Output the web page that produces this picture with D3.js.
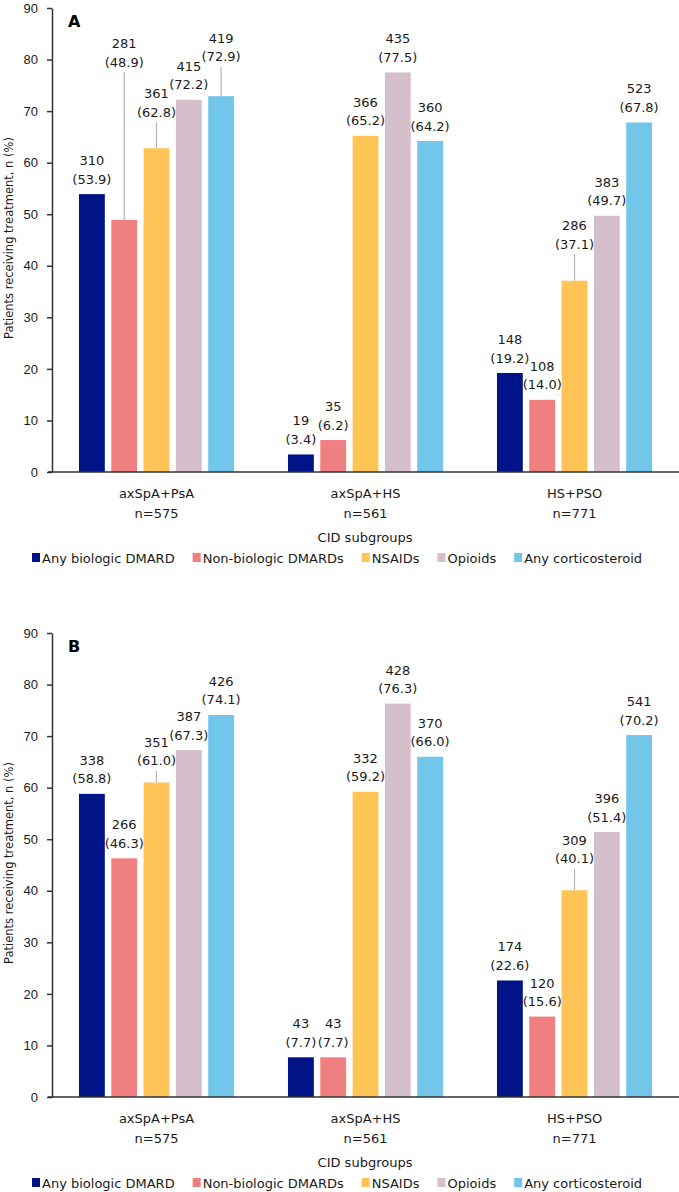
<!DOCTYPE html>
<html lang="en">
<head>
    <meta charset="UTF-8">
    <title>CID subgroups treatment</title>
    <script src="https://d3js.org/d3.v7.min.js"></script>
    <style>
        body {
            margin: 0;
            padding: 0;
            background-color: #fff;
        }

        svg {
            display: block;
            font-family: 'DejaVu Sans', Verdana, sans-serif;
        }

        .tick text, .lbl, .cat, .legend text, .xtitle {
            font-size: 13px;
            fill: #1a1a1a;
        }

        .ytitle {
            font-size: 11.5px;
            fill: #1a1a1a;
        }

        .panel-letter {
            font-size: 16px;
            font-weight: bold;
            fill: #000;
        }
    </style>
</head>
<body>
    <svg id="chart" width="679" height="1192"></svg>

    <script>
        // Categories and series
        const categories = ["axSpA+PsA", "axSpA+HS", "HS+PSO"];
        const groupN = [575, 561, 771];
        const series = ["Any biologic DMARD", "Non-biologic DMARDs", "NSAIDs", "Opioids", "Any corticosteroid"];
        const colors = ["#001387", "#f08080", "#ffc455", "#d4bfcb", "#72c6e9"];
        const yTicks = [0, 10, 20, 30, 40, 50, 60, 70, 80, 90];

        // Panel A: n and %
        const countsA = [[310, 281, 361, 415, 419], [19, 35, 366, 435, 360], [148, 108, 286, 383, 523]];
        const pctA = [[53.9, 48.9, 62.8, 72.2, 72.9], [3.4, 6.2, 65.2, 77.5, 64.2], [19.2, 14.0, 37.1, 49.7, 67.8]];
        // where a label was lifted above its bar (value-axis units), null = right on top
        const calloutA = [[null, 79.5, 69.8, null, 80.5], [null, null, null, null, null], [null, null, 44.2, null, null]];

        // Panel B: n and %
        const countsB = [[338, 266, 351, 387, 426], [43, 43, 332, 428, 370], [174, 120, 309, 396, 541]];
        const pctB = [[58.8, 46.3, 61.0, 67.3, 74.1], [7.7, 7.7, 59.2, 76.3, 66.0], [22.6, 15.6, 40.1, 51.4, 70.2]];
        const calloutB = [[null, null, 65.2, null, null], [null, null, null, null, null], [null, null, 46.2, null, null]];

        const svg = d3.select("#chart");
        const panelHeight = 625;
        const plotLeft = 52, plotRight = 679, plotTop = 8, plotBottom = 472;

        const yScale = d3.scaleLinear().domain([0, 90]).range([plotBottom, plotTop]);
        const x0 = d3.scaleBand().domain(categories).range([plotLeft, plotRight]).padding(0);
        const x1 = d3.scaleBand().domain(series).range([0, x0.bandwidth()])
            .paddingInner(0.2).paddingOuter(0.835);
        const color = d3.scaleOrdinal().domain(series).range(colors);

        function drawPanel(offsetY, letter, counts, pcts, callouts) {
            const g = svg.append("g").attr("transform", `translate(0,${offsetY})`);

            // y axis
            const yAxis = g.append("g")
                .attr("transform", `translate(${plotLeft},0)`)
                .call(d3.axisLeft(yScale).tickValues(yTicks).tickSize(5).tickSizeOuter(0).tickPadding(9));
            yAxis.select(".domain").attr("stroke", "#333").attr("stroke-width", 1.5);
            yAxis.selectAll(".tick line").attr("stroke", "#333").attr("stroke-width", 1.5);
            yAxis.selectAll(".tick text").attr("font-family", null).attr("font-size", null);

            g.append("text")
                .attr("class", "ytitle")
                .attr("transform", `translate(13,238) rotate(-90)`)
                .attr("text-anchor", "middle")
                .text("Patients receiving treatment, n (%)");

            g.append("text")
                .attr("class", "panel-letter")
                .attr("x", 68)
                .attr("y", 27)
                .text(letter);

            // bars
            const groups = g.selectAll(".grp")
                .data(categories)
                .join("g")
                .attr("class", "grp")
                .attr("transform", d => `translate(${x0(d)},0)`);

            groups.each(function (cat, ci) {
                const grp = d3.select(this);
                const rows = series.map((s, si) => ({
                    s, n: counts[ci][si], p: pcts[ci][si], at: callouts[ci][si]
                }));

                grp.selectAll("rect")
                    .data(rows)
                    .join("rect")
                    .attr("x", d => x1(d.s))
                    .attr("y", d => yScale(d.p))
                    .attr("width", x1.bandwidth())
                    .attr("height", d => yScale(0) - yScale(d.p))
                    .attr("fill", d => color(d.s));

                // leader lines for lifted labels
                grp.selectAll("line.lead")
                    .data(rows.filter(d => d.at !== null))
                    .join("line")
                    .attr("class", "lead")
                    .attr("x1", d => x1(d.s) + x1.bandwidth() / 2)
                    .attr("x2", d => x1(d.s) + x1.bandwidth() / 2)
                    .attr("y1", d => yScale(d.p))
                    .attr("y2", d => yScale(d.at) + 10)
                    .attr("stroke", "#b3b3b3")
                    .attr("stroke-width", 1.2);

                const lbl = grp.selectAll("text.lbl")
                    .data(rows)
                    .join("text")
                    .attr("class", "lbl")
                    .attr("text-anchor", "middle")
                    .attr("x", d => x1(d.s) + x1.bandwidth() / 2)
                    .attr("y", d => (d.at === null ? yScale(d.p) - 15 : yScale(d.at)) + 4.5);

                lbl.append("tspan")
                    .attr("x", d => x1(d.s) + x1.bandwidth() / 2)
                    .attr("dy", -18.5)
                    .text(d => d.n);
                lbl.append("tspan")
                    .attr("x", d => x1(d.s) + x1.bandwidth() / 2)
                    .attr("dy", 18.5)
                    .text(d => `(${d.p.toFixed(1)})`);
            });

            // x axis line
            g.append("line")
                .attr("x1", plotLeft - 4)
                .attr("x2", plotRight)
                .attr("y1", yScale(0))
                .attr("y2", yScale(0))
                .attr("stroke", "#333")
                .attr("stroke-width", 1.5);

            // category labels
            const cat = g.selectAll(".cat")
                .data(categories)
                .join("text")
                .attr("class", "cat")
                .attr("text-anchor", "middle")
                .attr("x", d => x0(d) + x0.bandwidth() / 2)
                .attr("y", 498);
            cat.append("tspan").text(d => d);
            cat.append("tspan")
                .attr("x", d => x0(d) + x0.bandwidth() / 2)
                .attr("dy", 20)
                .text((d, i) => `n=${groupN[i]}`);

            g.append("text")
                .attr("class", "xtitle")
                .attr("text-anchor", "middle")
                .attr("x", 365)
                .attr("y", 542)
                .text("CID subgroups");

            // legend
            const legend = g.append("g").attr("class", "legend").attr("transform", "translate(32,553)");
            let lx = 0;
            series.forEach(s => {
                const item = legend.append("g").attr("transform", `translate(${lx},0)`);
                item.append("rect")
                    .attr("width", 8)
                    .attr("height", 9)
                    .attr("fill", color(s));
                const t = item.append("text")
                    .attr("x", 10)
                    .attr("y", 9.5)
                    .text(s);
                lx += 10 + t.node().getComputedTextLength() + 18;
            });
        }

        drawPanel(0, "A", countsA, pctA, calloutA);
        drawPanel(panelHeight, "B", countsB, pctB, calloutB);
    </script>
</body>
</html>
